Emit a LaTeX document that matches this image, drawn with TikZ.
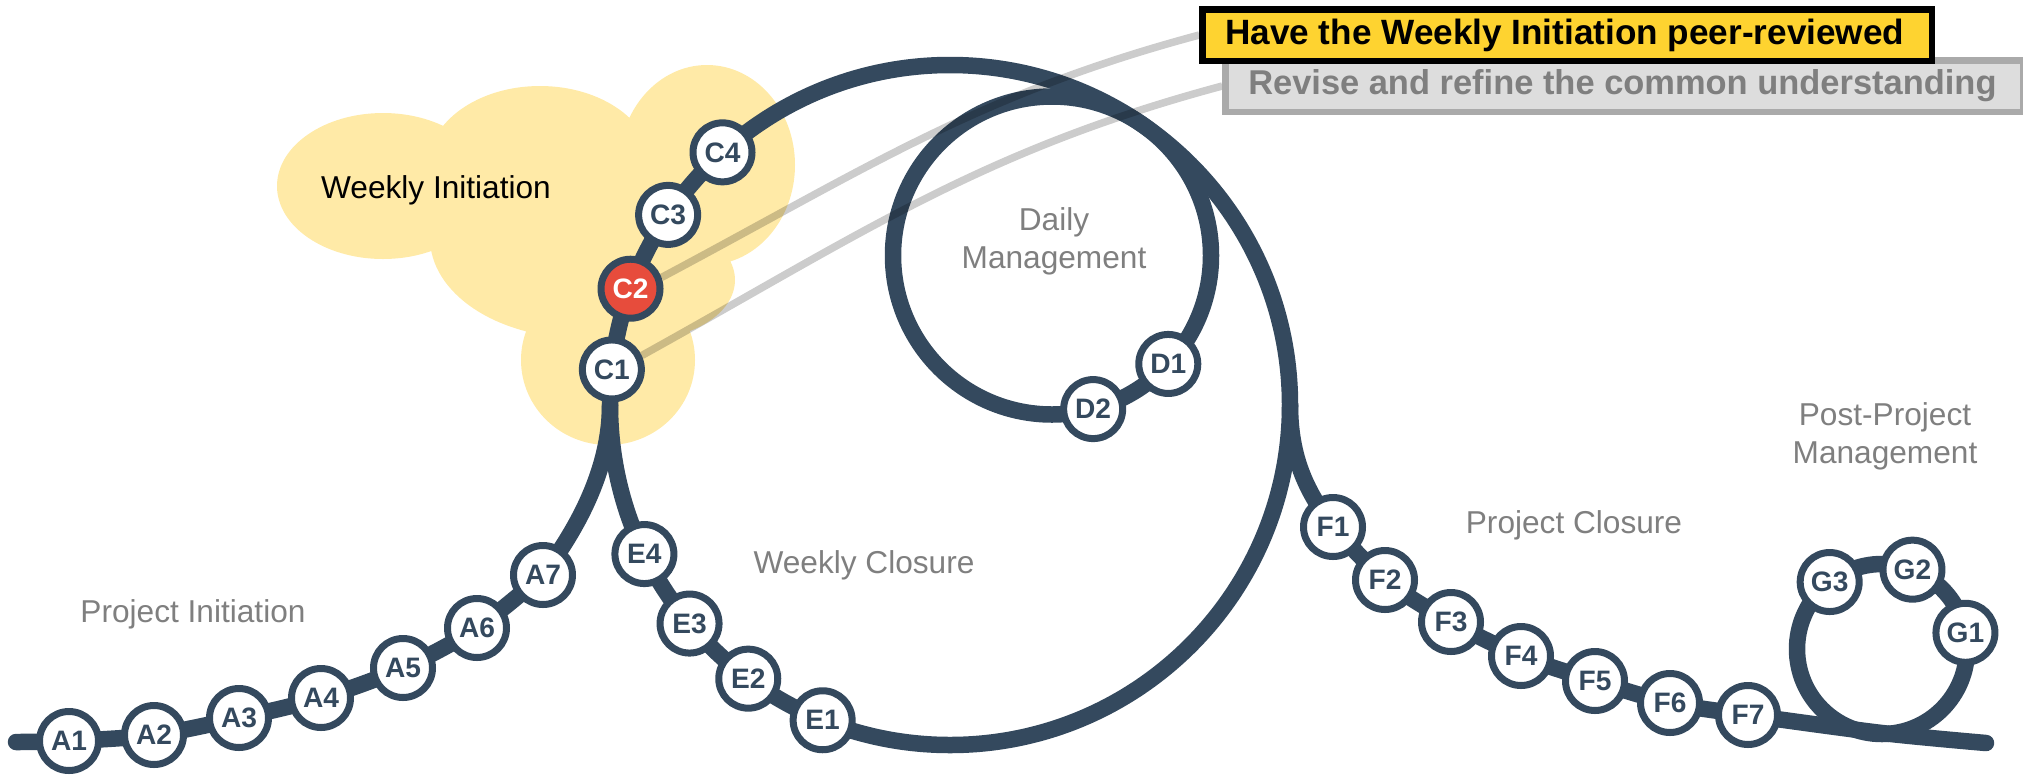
\documentclass[tikz,border=0pt]{standalone}
\usepackage{fontspec}
\setmainfont{Liberation Sans}
\usepackage{xcolor}
\usepackage{tikz}
\usetikzlibrary{backgrounds}
\definecolor{track}{HTML}{34495E}
\definecolor{alert}{HTML}{E74C3C}
\definecolor{cloudy}{HTML}{FFEAA7}
\definecolor{gold}{HTML}{FED330}
\definecolor{labelgray}{HTML}{7F7F7F}
\definecolor{boxgray}{HTML}{DDDDDD}
\definecolor{boxline}{HTML}{AAAAAA}
\tikzstyle{station} = [circle, minimum size=0.59cm, inner sep=0pt, draw=track, line width=0.07cm, fill=white, text=track, font=\fontsize{8}{9}\selectfont\bfseries]
\tikzstyle{active} = [station, fill=alert, text=white]
\tikzstyle{rail} = [draw=track, line width=0.165cm, line cap=round]
\tikzstyle{phase} = [text=labelgray, font=\fontsize{9}{10.9}\selectfont, align=center]
\tikzstyle{callout} = [draw=black, draw opacity=0.2, line width=0.075cm]
\tikzstyle{note} = [rectangle, line width=0.065cm, minimum height=0.515cm, inner xsep=0.2275cm, inner ysep=0pt, anchor=west]

\begin{document}
\begin{tikzpicture}
    \useasboundingbox (0,0) rectangle (20.23,-7.76);
    \coordinate (wk) at (9.50,-4.05);
    \coordinate (dl) at (10.52,-2.555);
    \coordinate (pp) at (18.82,-6.49);
    \coordinate (jl) at (6.10,-4.05);
    \coordinate (jr) at (12.90,-4.05);
    \coordinate (start) at (0.16,-7.42);
    \coordinate (bend) at (18.82,-7.33);
    \coordinate (stop) at (19.86,-7.43);

    \node (A1) [station] at (0.69,-7.41) {A1};
    \node (A2) [station] at (1.54,-7.35) {A2};
    \node (A3) [station] at (2.39,-7.18) {A3};
    \node (A4) [station] at (3.21,-6.98) {A4};
    \node (A5) [station] at (4.03,-6.68) {A5};
    \node (A6) [station] at (4.77,-6.28) {A6};
    \node (A7) [station] at (5.43,-5.75) {A7};

    \node (C1) [station] at ([shift={(174:3.4)}]wk) {C1};
    \node (C2) [active] at ([shift={(160:3.4)}]wk) {C2};
    \node (C3) [station] at ([shift={(146:3.4)}]wk) {C3};
    \node (C4) [station] at ([shift={(132:3.4)}]wk) {C4};

    \node (D1) [station] at ([shift={(-43:1.59)}]dl) {D1};
    \node (D2) [station] at ([shift={(-75:1.59)}]dl) {D2};

    \node (E1) [station] at ([shift={(248:3.4)}]wk) {E1};
    \node (E2) [station] at ([shift={(233.6:3.4)}]wk) {E2};
    \node (E3) [station] at ([shift={(220:3.4)}]wk) {E3};
    \node (E4) [station] at ([shift={(206:3.4)}]wk) {E4};

    \node (F1) [station] at (13.33,-5.27) {F1};
    \node (F2) [station] at (13.85,-5.80) {F2};
    \node (F3) [station] at (14.51,-6.22) {F3};
    \node (F4) [station] at (15.21,-6.56) {F4};
    \node (F5) [station] at (15.95,-6.81) {F5};
    \node (F6) [station] at (16.70,-7.03) {F6};
    \node (F7) [station] at (17.48,-7.15) {F7};

    \node (G1) [station] at ([shift={(11:0.85)}]pp) {G1};
    \node (G2) [station] at ([shift={(69:0.85)}]pp) {G2};
    \node (G3) [station] at ([shift={(128:0.85)}]pp) {G3};

    \node (winit) [anchor=base, font=\fontsize{9}{10.9}\selectfont] at (4.36,-1.98) {Weekly Initiation};
    \node (pinit) [phase, anchor=base] at (1.93,-6.22) {Project Initiation};
    \node (wclose) [phase, anchor=base] at (8.64,-5.73) {Weekly Closure};
    \node (daily) [phase] at (10.54,-2.41) {Daily\\Management};
    \node (pclose) [phase, anchor=base] at (15.74,-5.33) {Project Closure};
    \node (post) [phase] at (18.85,-4.36) {Post-Project\\Management};

    \node (revise) [note, fill=boxgray, draw=boxline, text=labelgray, font=\fontsize{9.8}{12}\selectfont\bfseries] at (12.2225,-0.86) {\makebox[7.52cm][l]{Revise and refine the common understanding}};
    \node (have) [note, fill=gold, draw=black, font=\fontsize{10}{12}\selectfont\bfseries] at (11.9925,-0.35) {\makebox[6.84cm][l]{Have the Weekly Initiation peer-reviewed}};

    \begin{scope}[on background layer]
        \fill[cloudy] (3.83,-1.86) ellipse (1.06 and 0.73) (5.40,-1.66) ellipse (1.12 and 0.80) (7.07,-1.65) ellipse (0.88 and 1.00) (5.80,-2.38) ellipse (1.50 and 1.00) (6.40,-2.80) ellipse (0.95 and 0.60) (6.08,-3.60) ellipse (0.87 and 0.85);
        \draw[rail] (wk) circle (3.4);
        \draw[rail] (dl) circle (1.59);
        \draw[rail] (pp) circle (0.85);
        \draw[rail] plot[smooth] coordinates {(start) (A1.center) (A2.center) (A3.center) (A4.center) (A5.center) (A6.center) (A7.center)} .. controls +(55:0.29) and +(0,-0.8) .. (jl);
        \draw[rail] (jr) .. controls +(0,-0.6) and +(-0.21,0.29) .. (F1.center) -- plot[smooth] coordinates {(F1.center) (F2.center) (F3.center) (F4.center) (F5.center) (F6.center) (F7.center) (bend) (stop)};
        \draw[callout] (C2.20) to[out=28, in=195] (have.west);
        \draw[callout] (C1.25) to[out=29, in=195] (revise.west);
    \end{scope}
\end{tikzpicture}
\end{document}
